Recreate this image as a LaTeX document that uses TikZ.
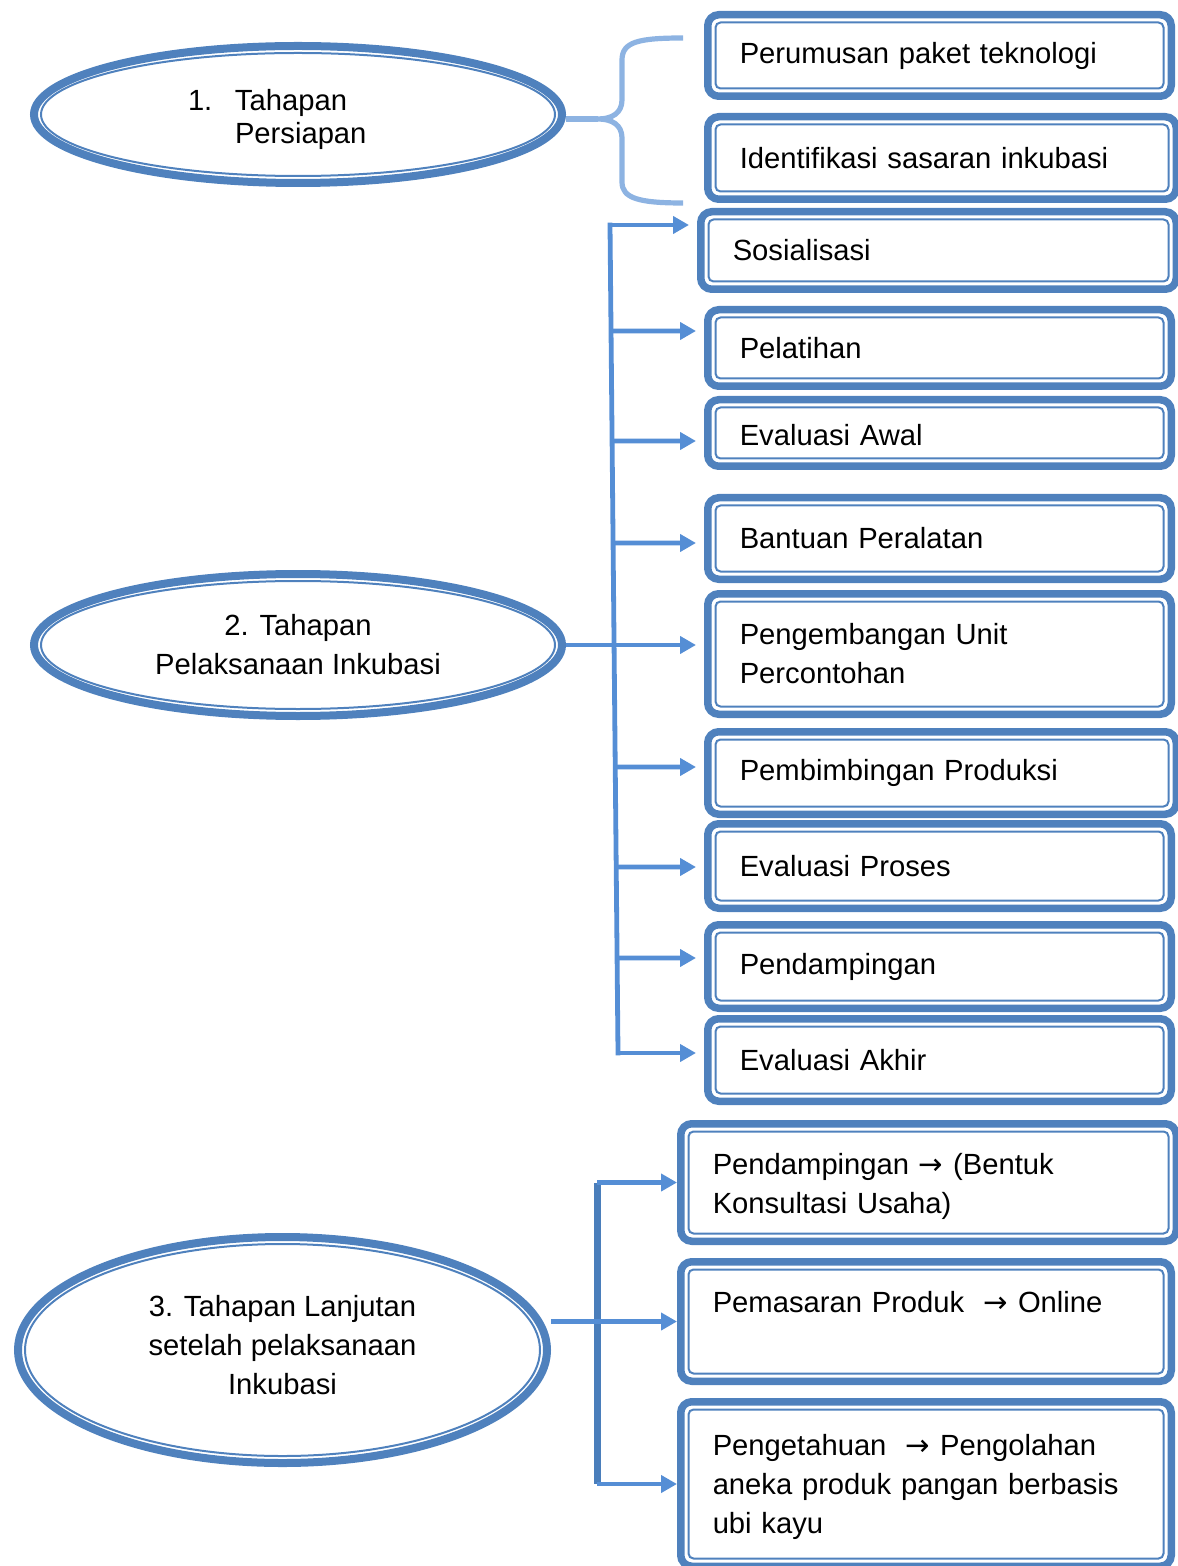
\documentclass[tikz,border=0pt]{standalone}
\usepackage{fontspec}
\setmainfont{Liberation Sans}
\newfontfamily\arrowfont{DejaVu Sans}
\newcommand{\ra}{{\arrowfont →}}
\usetikzlibrary{arrows.meta,positioning,calc,shapes.geometric}

\definecolor{boxblue}{HTML}{4F81BD}
\definecolor{linkblue}{HTML}{558ED5}
\definecolor{spineblue}{HTML}{4A7EBB}
\definecolor{braceblue}{HTML}{8DB3E2}

\begin{document}
\begin{tikzpicture}[
        x=0.5pt,
        y=-0.5pt,
        every node/.style={font=\fontsize{14.6pt}{19.5pt}\selectfont},
        box/.style={draw=boxblue, line width=3.75pt, rounded corners=5.5pt, align=left, inner xsep=16pt, inner ysep=0pt, text width=#1},
        stage/.style={ellipse, draw=boxblue, line width=4pt, inner sep=0pt, align=center},
        thinline/.style={draw=boxblue, line width=1pt},
        link/.style={draw=linkblue, line width=2.4pt, -{Triangle[length=8pt,width=8.5pt]}},
        spine/.style={draw=linkblue, line width=2.4pt, line cap=rect},
        spinethick/.style={draw=spineblue, line width=3.5pt},
        brace/.style={draw=braceblue, line width=2.6pt}
    ]
        \useasboundingbox (0,0) rectangle (1177,1566);

        % stage 1
        \node[stage, minimum width=264pt, minimum height=68.5pt, text width=110pt, align=left,
              font=\fontsize{14.6pt}{16.5pt}\selectfont] (tahap1) at (298,114.5)
              {\rule{0pt}{15.7pt}\makebox[23.5pt][l]{1.}Tahapan\\\hspace*{23.5pt}Persiapan};
        \node[box=199.75pt, minimum height=40.75pt] (rumus) at (939.5,55.5) {Perumusan paket teknologi};
        \node[box=202.25pt, minimum height=41.25pt] (ident) at (942,158) {Identifikasi sasaran inkubasi};

        \coordinate (bt) at (683,38);
        \coordinate (bb) at (683,203);
        \coordinate (btip) at (598,119);
        \draw[brace] (bt) .. controls (638,38) and (622,42) .. (622,60) -- (622,100)
            .. controls (622,113) and (612,119) .. (btip)
            .. controls (612,119) and (622,125) .. (622,138) -- (622,182)
            .. controls (622,198) and (638,203) .. (bb);
        \draw[brace] (tahap1.east |- btip) -- (btip);

        % stage 2
        \node[stage, minimum width=264pt, minimum height=71pt] (tahap2) at (298,645) {2. Tahapan\\Pelaksanaan Inkubasi};
        \node[box=205.75pt, minimum height=38.75pt] (sosial) at (938.5,250.5) {Sosialisasi};
        \node[box=199.75pt, minimum height=38.25pt] (latih) at (939.5,348) {Pelatihan};
        \node[box=199.75pt, minimum height=33.25pt] (evawal) at (939.5,433) {\rule{0pt}{13pt}Evaluasi Awal};
        \node[box=199.75pt, minimum height=40.75pt] (bantu) at (939.5,538.5) {Bantuan Peralatan};
        \node[box=199.75pt, minimum height=60.25pt] (kembang) at (939.5,654) {Pengembangan Unit\\Percontohan};
        \node[box=202.25pt, minimum height=41.25pt] (bimbing) at (942,773) {Pembimbingan Produksi};
        \node[box=199.75pt, minimum height=42.25pt] (evproses) at (939.5,866) {Evaluasi Proses};
        \node[box=199.75pt, minimum height=41.75pt] (damping) at (939.5,966.5) {Pendampingan};
        \node[box=199.75pt, minimum height=41.25pt] (evakhir) at (939.5,1060) {Evaluasi Akhir};

        \coordinate (s2t) at (610,225);
        \coordinate (s2b) at (618,1053);
        \draw[spine] (s2t) -- (s2b);
        \foreach \s/\ay in {sosial/225,latih/331,evawal/441,bantu/543,bimbing/767,evproses/867,damping/958,evakhir/1053}
            \draw[link, shorten >=4pt] ($(s2t)!{(\ay-225)/828}!(s2b)$) -- (\s.west |- 0,\ay);
        \draw[link, shorten >=4pt] (tahap2.east) -- (kembang.west |- tahap2.east);

        % stage 3
        \node[stage, minimum width=264.5pt, minimum height=113pt] (tahap3) at (282.5,1350) {3. Tahapan Lanjutan\\setelah pelaksanaan\\Inkubasi\rule[-5pt]{0pt}{0pt}};
        \node[box=215.75pt, minimum height=58.75pt] (konsul) at (928.5,1182.5) {\rule{0pt}{14.5pt}Pendampingan \ra{} (Bentuk\\Konsultasi Usaha)};
        \node[box=213.25pt, minimum height=59.75pt] (pasar) at (926,1321.5) {Pemasaran Produk~~\ra{} Online\\\mbox{}};
        \node[box=213.25pt, minimum height=82.25pt] (tahu) at (926,1484) {\rule{0pt}{13.5pt}Pengetahuan~~\ra{} Pengolahan\\aneka produk pangan berbasis\\ubi kayu};

        \coordinate (s3t) at (597,0 |- konsul.west);
        \coordinate (s3b) at (597,0 |- tahu.west);
        \draw[spinethick] (s3t) -- (s3b);
        \draw[link] (s3t) -- (konsul.west);
        \draw[link] (s3b) -- (tahu.west);
        \draw[link] (tahap3.east |- pasar.west) -- (pasar.west);

        % thin inner outlines
        \foreach \s in {rumus,ident,sosial,latih,evawal,bantu,kembang,bimbing,evproses,damping,evakhir,konsul,pasar,tahu}
            \draw[thinline, rounded corners=2.5pt] ([shift={(5.75pt,5.75pt)}]\s.south west) rectangle ([shift={(-5.75pt,-5.75pt)}]\s.north east);
        \foreach \s in {tahap1,tahap2,tahap3}
            \draw[thinline] let \p1=($(\s.east)-(\s.center)$), \p2=($(\s.north)-(\s.center)$) in
                (\s.center) ellipse [x radius=\x1-5.5pt, y radius=\y2-5.5pt];
\end{tikzpicture}
\end{document}
